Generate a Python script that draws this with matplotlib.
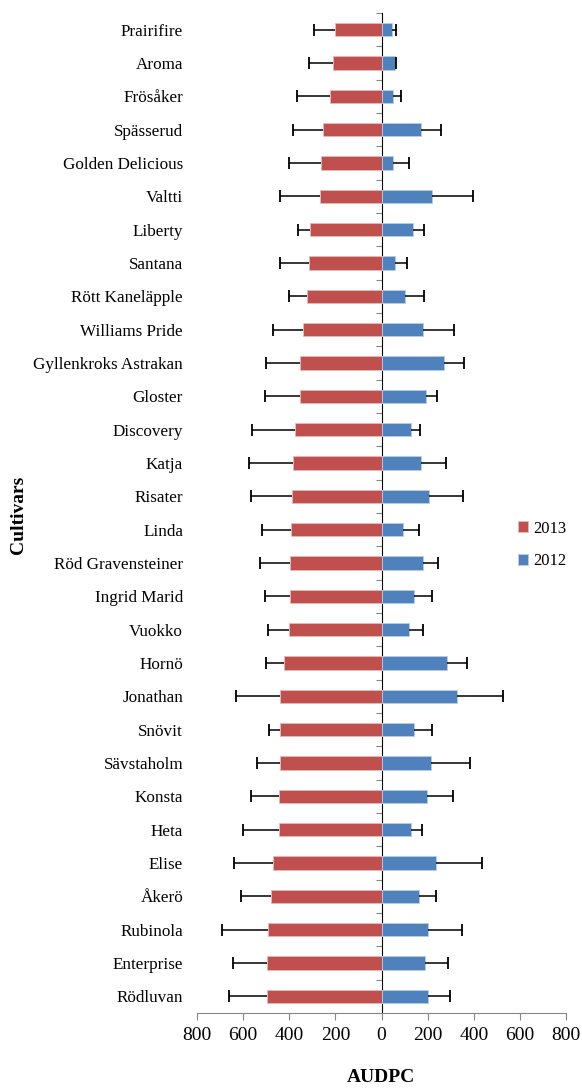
import numpy as np
import matplotlib
matplotlib.use("Agg")
import matplotlib.pyplot as plt

plt.rcParams['font.family'] = ['Liberation Serif', 'DejaVu Serif']

cultivars = ["Prairifire", "Aroma", "Frösåker", "Spässerud", "Golden Delicious",
             "Valtti", "Liberty", "Santana", "Rött Kaneläpple", "Williams Pride",
             "Gyllenkroks Astrakan", "Gloster", "Discovery", "Katja", "Risater",
             "Linda", "Röd Gravensteiner", "Ingrid Marid", "Vuokko", "Hornö",
             "Jonathan", "Snövit", "Sävstaholm", "Konsta", "Heta", "Elise",
             "Åkerö", "Rubinola", "Enterprise", "Rödluvan"]

audpc_2013 = [200, 210, 225, 254, 261, 267, 312, 313, 322, 341, 354, 355, 377, 383, 387,
              393, 396, 398, 401, 422, 438, 438, 442, 443, 446, 472, 477, 491, 496, 498]
err_2013 = [91, 104, 142, 130, 140, 173, 49, 125, 78, 131, 146, 152, 185, 192, 180,
            127, 131, 106, 92, 78, 191, 50, 100, 121, 155, 168, 134, 199, 147, 163]

audpc_2012 = [45, 57, 48, 172, 52, 219, 138, 59, 100, 181, 271, 191, 126, 170, 204,
              94, 178, 139, 120, 285, 329, 142, 214, 197, 126, 236, 161, 203, 190, 200]
err_2012 = [20, 8, 36, 86, 68, 179, 47, 50, 84, 132, 88, 50, 41, 108, 148,
            68, 68, 81, 61, 86, 197, 78, 171, 112, 51, 199, 74, 146, 98, 96]

xticks = [-800, -600, -400, -200, 0, 200, 400, 600, 800]

rojo = '#C0504D'
azul = '#4F81BD'
gris = '#868686'

y = np.arange(len(cultivars))
v13 = -np.array(audpc_2013)
v12 = np.array(audpc_2012)
fin13 = v13 - np.array(err_2013)
fin12 = v12 + np.array(err_2012)

fig = plt.figure(figsize=(5.82, 10.88), dpi=100)
ax = fig.add_axes([197 / 582, 1 - 1013 / 1088, 369 / 582, 1000 / 1088])

ax.barh(y, v13, height=0.4, color=rojo, edgecolor='#E6B9B8', linewidth=0.6, label='2013', zorder=2)
ax.barh(y, v12, height=0.4, color=azul, edgecolor='#B9CDE5', linewidth=0.6, label='2012', zorder=2)

# barras de error solo hacia afuera, con tope solo en el extremo
ax.hlines(y, v13, fin13, color='black', linewidth=1.1, zorder=3)
ax.hlines(y, v12, fin12, color='black', linewidth=1.1, zorder=3)
ax.plot(fin13, y, ls='none', marker='|', ms=8, mew=1.3, color='black', zorder=3)
ax.plot(fin12, y, ls='none', marker='|', ms=8, mew=1.3, color='black', zorder=3)

ax.set_xlim(-800, 800)
ax.set_ylim(len(y) - 0.5, -0.5)
ax.set_xticks(xticks)
ax.set_xticklabels([str(abs(t)) for t in xticks], fontsize=14)
ax.tick_params(axis='x', direction='out', length=5, color=gris, pad=5)

ax.set_yticks(y)
ax.set_yticklabels(cultivars, fontsize=12.3)
ax.tick_params(axis='y', length=0, pad=10)

for s in ['top', 'right', 'left']:
    ax.spines[s].set_visible(False)
ax.spines['bottom'].set_color(gris)

# eje vertical en cero con marcas entre categorias
eje0 = ax.secondary_yaxis(0.5)
eje0.set_yticks(np.arange(len(y) + 1) - 0.5)
eje0.set_yticklabels([])
eje0.tick_params(direction='in', length=4, color=gris)
eje0.spines['left'].set_color(gris)

fig.text(381 / 582, 1 - 1078 / 1088, 'AUDPC', ha='center', va='center',
         fontsize=14, fontweight='bold')
fig.text(18 / 582, 1 - 515 / 1088, 'Cultivars', rotation=90, ha='center', va='center',
         fontsize=14, fontweight='bold')

fig.legend(handles=ax.containers[:2], labels=['2013', '2012'],
           loc='center left', bbox_to_anchor=(503 / 582, 1 - 545 / 1088),
           frameon=False, fontsize=12, handlelength=0.6, handleheight=0.6,
           handletextpad=0.3, labelspacing=1.0)

fig.savefig('out.png', dpi=100)
